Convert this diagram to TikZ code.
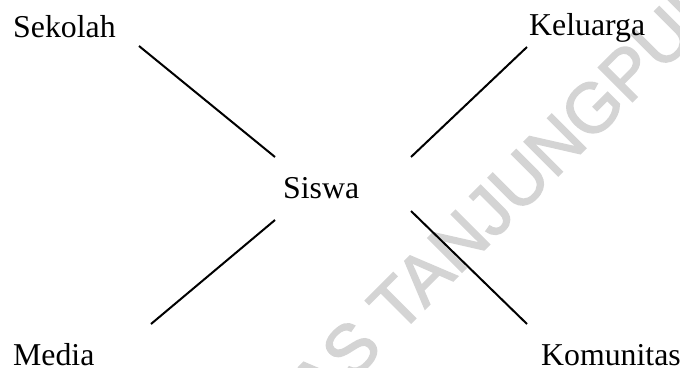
\documentclass[tikz,border=0pt]{standalone}
\usepackage{fontspec}
\setmainfont{Liberation Serif}
\newfontfamily\wmfont[FakeBold=2]{Liberation Sans}
\begin{document}
\begin{tikzpicture}[x=1pt,y=-1pt,
  lbl/.style={inner sep=0pt,anchor=base west,font=\fontsize{31.8}{38}\selectfont},
  wm/.style={inner sep=0pt,anchor=base,text=black!17,rotate=45,font=\wmfont\fontsize{70}{80}\selectfont},
  conn/.style={line width=2pt}]
\useasboundingbox (0,0) rectangle (680,367);
\begin{scope}
\clip (0,0) rectangle (680,367);
\node[wm] (wmark) at (412,322) {UNIVERSITAS TANJUNGPURA};
\end{scope}
\node[lbl] (sekolah) at (13,37) {Sekolah};
\node[lbl] (keluarga) at (529,35) {Keluarga};
\node[lbl] (siswa) at (283,198) {Siswa};
\node[lbl] (media) at (13,365) {Media};
\node[lbl] (komunitas) at (541,365) {Komunitas};
\coordinate (a1) at (139,46);  \coordinate (a2) at (275,157);
\coordinate (b1) at (527,47);  \coordinate (b2) at (411,157);
\coordinate (c1) at (275,220); \coordinate (c2) at (151,324);
\coordinate (d1) at (411,211); \coordinate (d2) at (527,324);
\draw[conn] (a1) -- (a2);
\draw[conn] (b1) -- (b2);
\draw[conn] (c1) -- (c2);
\draw[conn] (d1) -- (d2);
\end{tikzpicture}
\end{document}
